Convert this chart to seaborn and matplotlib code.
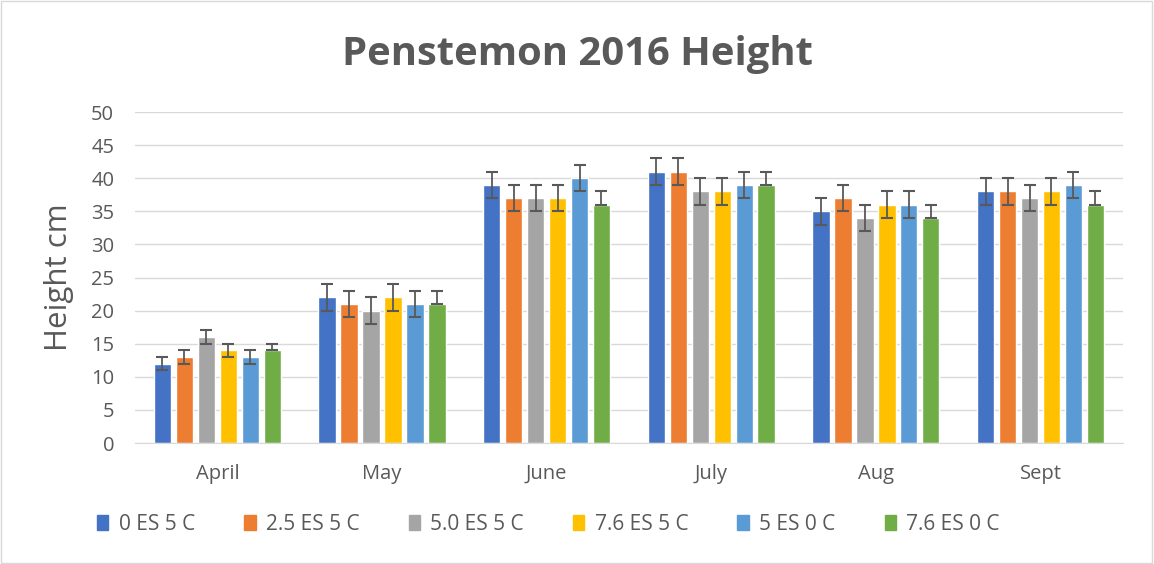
import matplotlib
matplotlib.use("Agg")
import matplotlib.pyplot as plt
import seaborn as sns
import pandas as pd

months = ["April", "May", "June", "July", "Aug", "Sept"]
treatments = ["0 ES 5 C", "2.5 ES 5 C", "5.0 ES 5 C", "7.6 ES 5 C", "5 ES 0 C", "7.6 ES 0 C"]
colors = ["#4472C4", "#ED7D31", "#A5A5A5", "#FFC000", "#5B9BD5", "#70AD47"]

# heights per treatment, one value per month
heights = {
    "0 ES 5 C":   [12, 22, 39, 41, 35, 38],
    "2.5 ES 5 C": [13, 21, 37, 41, 37, 38],
    "5.0 ES 5 C": [16, 20, 37, 38, 34, 37],
    "7.6 ES 5 C": [14, 22, 37, 38, 36, 38],
    "5 ES 0 C":   [13, 21, 40, 39, 36, 39],
    "7.6 ES 0 C": [14, 21, 36, 39, 34, 36],
}
# error bar size per month
errors = [1, 2, 2, 2, 2, 2]

rows = []
for t in treatments:
    for m, h in zip(months, heights[t]):
        rows.append({"month": m, "treatment": t, "height": h})
df = pd.DataFrame(rows)

sns.set_style("white")
plt.rcParams["font.family"] = ["Open Sans", "DejaVu Sans"]

fig = plt.figure(figsize=(11.54, 5.64), dpi=100)
ax = fig.add_axes([0.117, 0.2145, 0.856, 0.5869])

sns.barplot(data=df, x="month", y="height", hue="treatment", order=months,
            hue_order=treatments, palette=colors, saturation=1, errorbar=None,
            width=0.80, gap=0.21, ax=ax, legend=False, zorder=2)

# error bars, green series shows only the upper half
for i, t in enumerate(treatments):
    container = ax.containers[i]
    for j, patch in enumerate(container.patches):
        x = patch.get_x() + patch.get_width() / 2
        y = patch.get_height()
        lower = 0 if t == "7.6 ES 0 C" else errors[j]
        ax.errorbar(x, y, yerr=[[lower], [errors[j]]], color="#595959",
                    capsize=4.3, capthick=1.5, elinewidth=1.3, zorder=3)

ax.set_xlim(-0.5, len(months) - 0.5)
ax.set_ylim(0, 50)
ax.set_yticks(range(0, 51, 5))
ax.yaxis.grid(True, color="#D9D9D9", linewidth=1.0, zorder=0)
ax.set_axisbelow(True)
for s in ["top", "right", "left"]:
    ax.spines[s].set_visible(False)
ax.spines["bottom"].set_color("#D9D9D9")
ax.tick_params(axis="both", colors="#595959", labelsize=14.5, length=0)
ax.tick_params(axis="x", pad=15)
ax.tick_params(axis="y", pad=15)
ax.set_xlabel("")
ax.set_ylabel("Height cm", fontsize=22.5, color="#595959", labelpad=12)
fig.text(0.5, 1 - 65 / 564, "Penstemon 2016 Height", ha="center", va="baseline",
         fontsize=28.8, fontweight="bold", color="#595959")

handles = [plt.Rectangle((0, 0), 1, 1, color=c) for c in colors]
fig.legend(handles, treatments, loc="center left", bbox_to_anchor=(97 / 1154, 1 - 524 / 564),
           ncol=6, frameon=False, fontsize=15, handlelength=0.55, handleheight=0.7,
           handletextpad=0.5, columnspacing=2.35, labelcolor="#595959",
           borderpad=0, borderaxespad=0)

fig.patches.append(plt.Rectangle((0.001, 0.002), 0.997, 0.996, transform=fig.transFigure,
                                 fill=False, edgecolor="#D9D9D9", linewidth=1))
fig.savefig("out.png", dpi=100, facecolor="white")
